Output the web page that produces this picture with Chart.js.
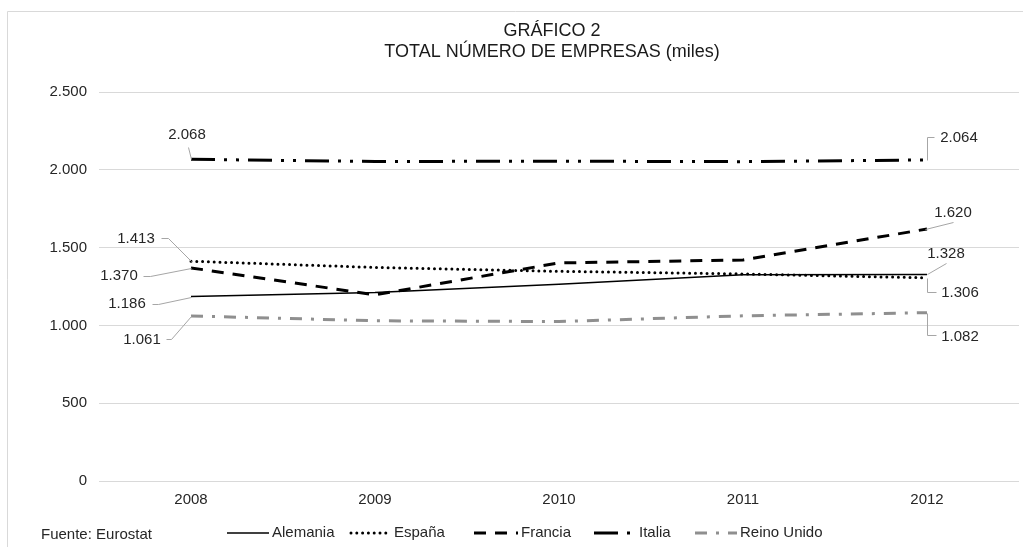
<!DOCTYPE html>
<html>
<head>
<meta charset="utf-8">
<script src="https://cdn.jsdelivr.net/npm/chart.js@4/dist/chart.umd.min.js"></script>
<style>
  html, body { margin: 0; padding: 0; background: #ffffff; overflow: hidden; }
  #wrap { width: 1023px; height: 547px; }
  canvas { display: block; }
</style>
</head>
<body>
<div id="wrap"><canvas id="c" width="1023" height="547"></canvas></div>
<script>
// ---- Data ----
const years = ['2008', '2009', '2010', '2011', '2012'];
const alemania = [1186, 1212, 1265, 1326, 1328];
const espana = [1413, 1373, 1348, 1331, 1306];
const francia = [1370, 1197, 1402, 1421, 1620];
const italia = [2068, 2054, 2056, 2053, 2064];
const reinoUnido = [1061, 1030, 1025, 1062, 1082];
const seriesNames = ['Alemania', 'España', 'Francia', 'Italia', 'Reino Unido'];
const titleLines = ['GRÁFICO 2', 'TOTAL NÚMERO DE EMPRESAS (miles)'];
const sourceText = 'Fuente: Eurostat';

const FONT = "'Liberation Sans', Arial, Helvetica, sans-serif";
const TEXT = '#262626';

const fmt = v => String(Math.round(v)).replace(/\B(?=(\d{3})+(?!\d))/g, '.');

// label annotation layout (offsets relative to the data point): [datasetIndex, pointIndex, textDx, textDy, leader path]
const endLabels = [
  [3, 0, -4, -24, [[0, 0], [-3, -12]]],
  [1, 0, -55, -22, [[0, 0], [-23, -23], [-30, -23]]],
  [2, 0, -72, 8, [[0, 0], [-41, 8], [-48, 8]]],
  [0, 0, -64, 7, [[0, 0], [-33, 7], [-39, 7]]],
  [4, 0, -49, 24, [[0, 0], [-20, 23], [-25, 23]]],
  [3, 4, 32, -22, [[0, 0], [0, -23], [7, -23]]],
  [2, 4, 26, -16, [[-2, 0], [26, -7]]],
  [0, 4, 19, -21, [[0, 0], [19, -11]]],
  [1, 4, 33, 15, [[0, 0], [0, 14], [9, 14]]],
  [4, 4, 33, 24, [[0, 0], [0, 22], [9, 22]]]
];
const legendStarts = [227, 351, 474, 594, 695];
const legendSampleW = [42, 40, 44, 42, 42];

const bgPlugin = {
  id: 'bgBorder',
  beforeDraw(chart) {
    const ctx = chart.ctx;
    ctx.save();
    ctx.fillStyle = '#ffffff';
    ctx.fillRect(0, 0, chart.width, chart.height);
    ctx.strokeStyle = '#d9d9d9';
    ctx.lineWidth = 1;
    ctx.beginPath();
    ctx.moveTo(7.5, chart.height);
    ctx.lineTo(7.5, 11.5);
    ctx.lineTo(chart.width, 11.5);
    ctx.stroke();
    ctx.restore();
  },
  afterLayout(chart) {
    if (chart.titleBlock) {
      chart.titleBlock.left = 85;
      chart.titleBlock.right = 1019;
      chart.titleBlock.width = 934;
    }
  }
};

const labelPlugin = {
  id: 'endLabels',
  afterDatasetsDraw(chart) {
    const ctx = chart.ctx;
    ctx.save();
    ctx.font = '15px ' + FONT;
    ctx.textAlign = 'center';
    ctx.textBaseline = 'middle';
    endLabels.forEach(([di, pi, dx, dy, path]) => {
      const pt = chart.getDatasetMeta(di).data[pi];
      const val = chart.data.datasets[di].data[pi];
      ctx.strokeStyle = '#a6a6a6';
      ctx.lineWidth = 1;
      ctx.setLineDash([]);
      ctx.beginPath();
      path.forEach(([ox, oy], k) => {
        const x = Math.round(pt.x + ox) + 0.5, y = Math.round(pt.y + oy) + 0.5;
        if (k === 0) ctx.moveTo(x, y); else ctx.lineTo(x, y);
      });
      ctx.stroke();
      ctx.fillStyle = TEXT;
      ctx.fillText(fmt(val), pt.x + dx, pt.y + dy);
    });
    ctx.restore();
  }
};

const legendPlugin = {
  id: 'customLegend',
  afterDraw(chart) {
    const ctx = chart.ctx;
    const y = 533;
    ctx.save();
    ctx.font = '15px ' + FONT;
    ctx.textBaseline = 'middle';
    ctx.textAlign = 'left';
    ctx.fillStyle = TEXT;
    ctx.fillText(sourceText, 41, 535);
    chart.data.datasets.forEach((ds, i) => {
      const x0 = legendStarts[i];
      const w = legendSampleW[i];
      ctx.save();
      ctx.strokeStyle = ds.borderColor;
      ctx.lineWidth = ds.borderWidth;
      ctx.lineCap = ds.borderCapStyle || 'butt';
      ctx.setLineDash(ds.borderDash || []);
      ctx.beginPath();
      ctx.moveTo(x0, y);
      ctx.lineTo(x0 + w, y);
      ctx.stroke();
      ctx.restore();
      ctx.fillStyle = TEXT;
      ctx.fillText(ds.label, x0 + w + 3, y);
    });
    ctx.restore();
  }
};

const mk = (label, data, color, width, dash, cap) => ({
  label, data,
  borderColor: color,
  backgroundColor: color,
  borderWidth: width,
  borderDash: dash,
  borderCapStyle: cap,
  pointRadius: 0,
  pointHoverRadius: 0,
  tension: 0,
  fill: false
});

new Chart(document.getElementById('c'), {
  type: 'line',
  data: {
    labels: years,
    datasets: [
      mk(seriesNames[0], alemania, '#000000', 1.5, [], 'butt'),
      mk(seriesNames[1], espana, '#000000', 3, [0, 5.8], 'round'),
      mk(seriesNames[2], francia, '#000000', 3, [12, 9], 'butt'),
      mk(seriesNames[3], italia, '#000000', 3, [24, 9, 3, 9, 3, 9], 'butt'),
      mk(seriesNames[4], reinoUnido, '#8f8f8f', 3, [12, 9, 3, 9], 'butt')
    ]
  },
  options: {
    responsive: false,
    animation: false,
    devicePixelRatio: 1,
    layout: { padding: { left: 0, right: 4, top: 0, bottom: 0 } },
    plugins: {
      legend: { display: false },
      tooltip: { enabled: false },
      title: {
        display: true,
        text: titleLines,
        fullSize: false,
        color: '#1a1a1a',
        font: { family: FONT, size: 18, weight: 'normal', lineHeight: 1.17 },
        padding: { top: 20.5, bottom: 29.5 }
      }
    },
    scales: {
      x: {
        offset: true,
        grid: { display: false, drawTicks: false },
        border: { display: false },
        ticks: { color: TEXT, font: { family: FONT, size: 15 }, padding: 10 },
        afterFit(scale) { scale.height = 66; }
      },
      y: {
        min: 0, max: 2500,
        ticks: {
          stepSize: 500,
          color: TEXT,
          font: { family: FONT, size: 15 },
          padding: 12,
          callback: v => fmt(v)
        },
        grid: { color: '#d9d9d9', lineWidth: 1, drawTicks: false },
        border: { display: false },
        afterFit(scale) { scale.width = 99; }
      }
    }
  },
  plugins: [bgPlugin, labelPlugin, legendPlugin]
});
</script>
</body>
</html>
